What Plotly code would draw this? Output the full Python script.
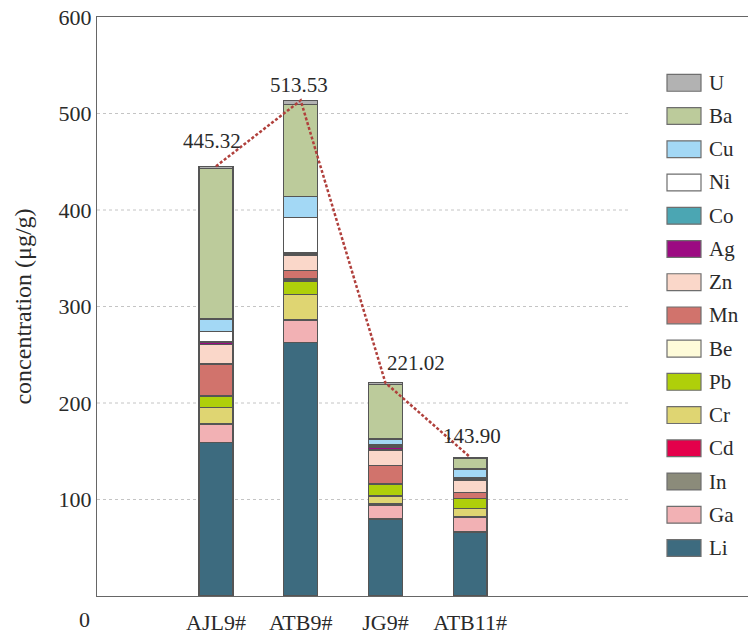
import plotly.graph_objects as go

# Samples and element concentrations (µg/g), listed from the bottom of each stack upward
samples = ["AJL9#", "ATB9#", "JG9#", "ATB11#"]

Li = [159.4, 263.1, 79.8, 66.4]
Ga = [18.2, 22.0, 14.0, 14.7]
In = [0.7, 1.0, 1.5, 1.2]
Cd = [0.3, 0.3, 0.3, 0.2]
Cr = [16.4, 26.3, 8.0, 7.9]
Pb = [11.8, 13.8, 12.0, 10.3]
Be = [0.5, 2.0, 1.0, 0.5]
Mn = [33.2, 9.0, 18.8, 6.2]
Zn = [20.2, 15.4, 16.0, 12.3]
Ag = [2.0, 1.6, 2.5, 1.0]
Co = [0.5, 1.5, 1.0, 1.5]
Ni = [11.0, 35.9, 1.6, 0.5]
Cu = [12.9, 22.3, 6.2, 8.9]
Ba = [155.82, 94.93, 56.52, 11.0]
U = [2.4, 4.4, 1.8, 1.3]

elements = ["Li", "Ga", "In", "Cd", "Cr", "Pb", "Be", "Mn", "Zn", "Ag", "Co", "Ni", "Cu", "Ba", "U"]
series = [Li, Ga, In, Cd, Cr, Pb, Be, Mn, Zn, Ag, Co, Ni, Cu, Ba, U]

colors = {
    "Li": "#3d6b7f", "Ga": "#f2b1b4", "In": "#8b8b7a", "Cd": "#e4004b",
    "Cr": "#dfd572", "Pb": "#afcf0a", "Be": "#fefbd9", "Mn": "#d1736c",
    "Zn": "#fad7c9", "Ag": "#9c0a82", "Co": "#4ba6b3", "Ni": "#ffffff",
    "Cu": "#a3d8f5", "Ba": "#bccb9b", "U": "#b2b2b2",
}

totals = [round(sum(vals), 2) for vals in zip(*series)]

FONT = "Times New Roman, Liberation Serif, DejaVu Serif, serif"
TEXT = "#2a2a2a"

fig = go.Figure()

for name, vals in zip(elements, series):
    fig.add_trace(go.Bar(
        x=samples, y=vals, name=name, width=0.4,
        marker=dict(color=colors[name], line=dict(color="#555555", width=1.2)),
        showlegend=False,
    ))

# Dashed trend through the stack totals
fig.add_trace(go.Scatter(
    x=samples, y=totals, mode="lines", showlegend=False,
    line=dict(color="#b0403c", width=2.5, dash="3px,2px"),
))

# Total labels above each stack
label_shift = [(-4, 25), (-2, 15), (31, 20), (2, 21)]
for s, t, (dx, dy) in zip(samples, totals, label_shift):
    fig.add_annotation(
        x=s, y=t, text=f"{t:.2f}", showarrow=False,
        xshift=dx, yshift=dy, yanchor="middle",
        font=dict(family=FONT, size=21, color=TEXT),
    )

# Horizontal dotted guides (stop short of the legend)
for v in [100, 200, 300, 400, 500]:
    fig.add_shape(type="line", xref="x domain", yref="y", x0=0, x1=0.816, y0=v, y1=v,
                  line=dict(color="#c4c4c4", width=1, dash="dot"), layer="below")

# Zero label sits level with the category labels
fig.add_annotation(xref="paper", yref="y", x=0, y=0, xshift=-5, yshift=-23,
                   xanchor="right", yanchor="middle", text="0", showarrow=False,
                   font=dict(family=FONT, size=22, color=TEXT))

# Legend: swatches with labels, top entry first
plot_w, plot_h = 651.0, 585.0
sw_x0, sw_x1 = (667 - 97) / plot_w, (701 - 97) / plot_w
txt_x = (707 - 97) / plot_w
top_c, step, sw_h = 83.5, 33.57, 17
for i, name in enumerate(reversed(elements)):
    cy = top_c + i * step
    y0 = (602 - (cy + sw_h / 2)) / plot_h
    y1 = (602 - (cy - sw_h / 2)) / plot_h
    fig.add_shape(type="rect", xref="paper", yref="paper", x0=sw_x0, x1=sw_x1, y0=y0, y1=y1,
                  fillcolor=colors[name], line=dict(color="#6e6e6e", width=1.2))
    fig.add_annotation(xref="paper", yref="paper", x=txt_x, y=(602 - cy) / plot_h,
                       xanchor="left", yanchor="middle", text=name, showarrow=False,
                       font=dict(family=FONT, size=21, color=TEXT))

fig.update_layout(
    width=748, height=635,
    margin=dict(l=97, r=0, t=17, b=33),
    barmode="stack",
    paper_bgcolor="white", plot_bgcolor="white",
    font=dict(family=FONT, size=22, color=TEXT),
    xaxis=dict(
        type="category", range=[-1.405, 6.281],
        showline=True, mirror=True, linecolor="#666666", linewidth=1.2,
        showgrid=False, ticks="", ticklabelstandoff=6,
        tickfont=dict(family=FONT, size=22, color=TEXT),
    ),
    yaxis=dict(
        range=[0, 600], tickvals=[100, 200, 300, 400, 500, 600],
        showline=True, linecolor="#666666", linewidth=1.2,
        showgrid=False, zeroline=False, ticks="",
        tickfont=dict(family=FONT, size=22, color=TEXT),
        title=dict(text="concentration (μg/g)", standoff=20,
                   font=dict(family=FONT, size=24, color=TEXT)),
    ),
)

fig.write_html("out.html")
